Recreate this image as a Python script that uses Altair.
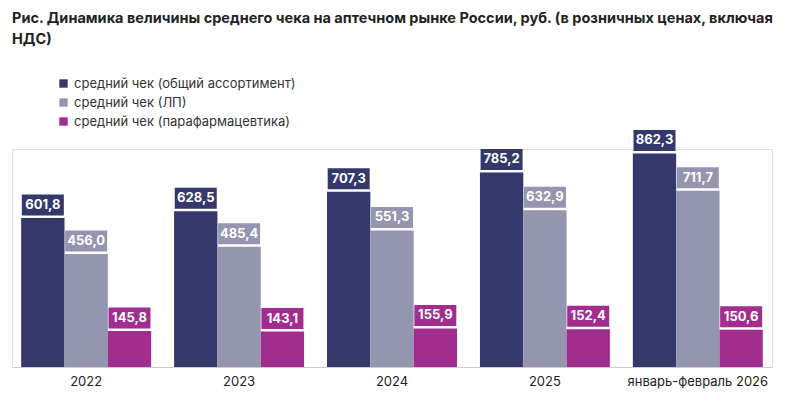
import altair as alt
import pandas as pd

years = ["2022", "2023", "2024", "2025", "январь-февраль 2026"]
series = ["средний чек (общий ассортимент)", "средний чек (ЛП)", "средний чек (парафармацевтика)"]
total = [601.8, 628.5, 707.3, 785.2, 862.3]
drugs = [456.0, 485.4, 551.3, 632.9, 711.7]
para = [145.8, 143.1, 155.9, 152.4, 150.6]
colors = ["#34386b", "#9495ae", "#a12d8f"]

rows = []
for vals, s in zip([total, drugs, para], series):
    for y, v in zip(years, vals):
        rows.append({"year": y, "series": s, "value": v, "label": f"{v:.1f}".replace(".", ",")})
df = pd.DataFrame(rows)

FONT = "Inter"
x = alt.X("year:N", sort=years, title=None,
          scale=alt.Scale(paddingInner=0.15, paddingOuter=0.06),
          axis=alt.Axis(labelAngle=0, ticks=False, labelFontSize=13, labelColor="#222",
                        labelFont=FONT, labelPadding=8, domainColor="#cccccc"))
xo = alt.XOffset("series:N", sort=series)
y = alt.Y("value:Q", scale=alt.Scale(domain=[0, 880]), axis=None)
color = alt.Color("series:N", sort=series, scale=alt.Scale(domain=series, range=colors),
                  legend=alt.Legend(title=None, orient="none", legendX=45, legendY=-72,
                                    symbolType="square", symbolSize=70, labelFontSize=13,
                                    labelFont=FONT, labelColor="#333", rowPadding=5,
                                    labelLimit=0))

base = alt.Chart(df).encode(x=x, xOffset=xo, y=y)
bars = base.mark_bar().encode(color=color)
boxes = base.mark_point(shape="M-2,-1H2V1H-2Z", size=441, filled=True, opacity=1,
                        yOffset=-13).encode(color=alt.Color("series:N", sort=series,
                        scale=alt.Scale(domain=series, range=colors), legend=None))
texts = base.mark_text(color="white", fontWeight="bold", fontSize=13, font=FONT,
                       yOffset=-13).encode(text="label:N")

chart = (alt.layer(bars, boxes, texts)
         .properties(width=760, height=218,
                     title=alt.TitleParams(
                         ["Рис. Динамика величины среднего чека на аптечном рынке России, руб. (в розничных ценах, включая",
                          "НДС)"], anchor="start", fontSize=14.5, font=FONT, fontWeight="bold",
                         color="#222", offset=30, lineHeight=21))
         .configure_view(strokeWidth=0)
         .configure(padding={"left": 4, "top": 2, "right": 5, "bottom": 5}))
chart.save("out.html", embed_options={"renderer": "svg", "actions": False})
